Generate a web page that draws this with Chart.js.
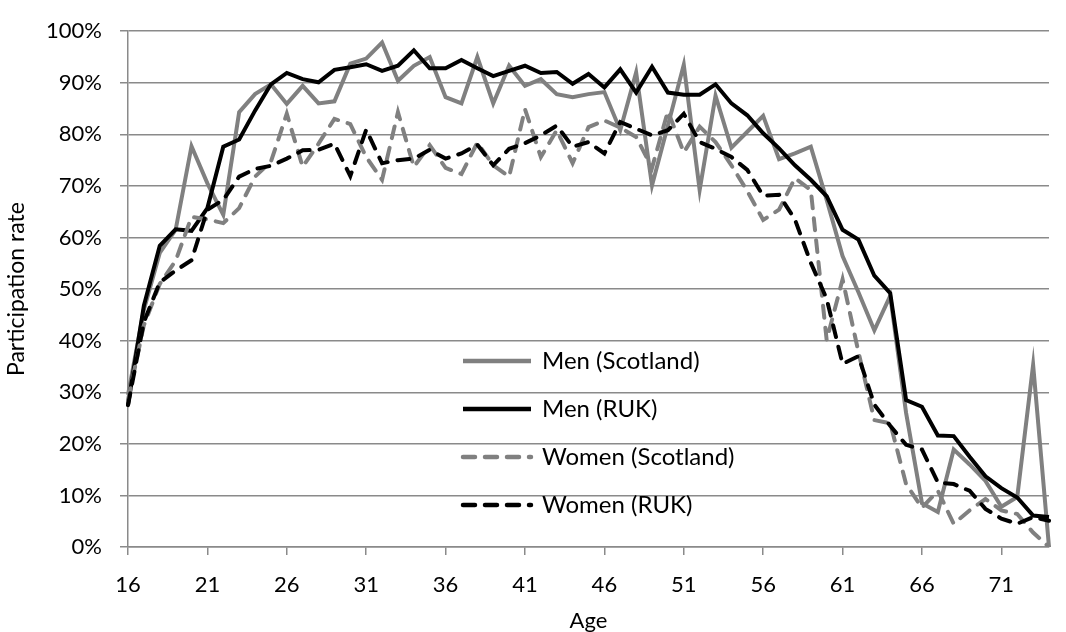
<!DOCTYPE html>
<html>
<head>
<meta charset="utf-8">
<title>Participation rate by age</title>
<script src="https://cdn.jsdelivr.net/npm/chart.js@4.4.1/dist/chart.umd.min.js"></script>
<style>
    body { margin: 0; background: #fff; }
    #wrap { width: 1066px; height: 632px; }
</style>
</head>
<body>
<div id="wrap"><canvas id="rateChart" width="1066" height="632"></canvas></div>
<script>
// ages 16..74
const ages = [];
for (let a = 16; a <= 74; a++) ages.push(a);

const menScotland = [
    29.5, 46, 57, 61.5, 77.7, 70.5, 64.4, 84.3, 87.8, 89.7,
    85.9, 89.4, 86, 86.4, 93.7, 94.7, 97.8, 90.4, 93.3, 95,
    87.2, 86, 95, 86, 93.3, 89.4, 90.7, 87.8, 87.2, 87.8,
    88.2, 80.8, 92, 70.1, 81.7, 93.5, 69.2, 87.5, 77.4, 80.5,
    83.6, 75.2, 76.3, 77.6, 67.3, 56.4, 49.4, 42, 48.7, 26,
    8.5, 6.8, 18.9, 16, 12.8, 7.8, 9.7, 35.3, 0
];
const menRUK = [
    27.5, 46.8, 58.4, 61.6, 61.3, 65.7, 77.6, 79, 84.6, 89.7,
    91.9, 90.7, 90.1, 92.5, 93, 93.6, 92.3, 93.3, 96.3, 92.8,
    92.8, 94.4, 92.8, 91.3, 92.3, 93.3, 91.9, 92.1, 89.8, 91.7,
    89.1, 92.6, 88.1, 93.1, 88.1, 87.7, 87.7, 89.7, 86, 83.7,
    80.2, 77.3, 74, 71.2, 68, 61.5, 59.6, 52.6, 49.2, 28.5,
    27.2, 21.6, 21.5, 17.5, 13.7, 11.4, 9.6, 6.1, 5.8
];
const womenScotland = [
    28.5, 43, 51, 55.5, 64, 63.5, 62.8, 65.7, 71.8, 74.7,
    84, 73.7, 78.2, 83, 82, 75.6, 71.2, 84.3, 73.7, 77.9,
    73.5, 72.3, 78.4, 74, 71.8, 84.9, 75.6, 80.8, 74.4, 81.4,
    82.7, 81.3, 79.5, 73.5, 84.5, 76.5, 81.5, 78.5, 74, 69,
    63.4, 65.4, 71.5, 69.2, 40.1, 51.9, 37.8, 24.6, 24, 12.2,
    7.6, 10.9, 4.5, 7.1, 9.3, 7.1, 6.4, 2.8, 0
];
const womenRUK = [
    27.5, 43.6, 51.3, 53.6, 55.6, 65.4, 67.3, 71.8, 73.3, 73.9,
    75.3, 76.9, 77, 78.2, 71.9, 80.9, 74.4, 75, 75.3, 77,
    75.3, 76.3, 78, 74, 77.2, 78.3, 79.8, 81.7, 77.6, 78.5,
    76.3, 82.4, 81.1, 79.8, 80.8, 84, 78.5, 77.2, 75.6, 73.1,
    68.1, 68.3, 63.5, 55.1, 48.1, 35.5, 37, 27.6, 23.5, 19.8,
    18.9, 12.5, 12.2, 10.9, 7.4, 5.5, 4.5, 5.8, 5.1
];
const seriesNames = ['Men (Scotland)', 'Men (RUK)', 'Women (Scotland)', 'Women (RUK)'];

const GREY = '#808080';
const FONT = 'Lato, "Open Sans", sans-serif';
const GRID = '#8a8a8a';

// legend sits inside the plot, drawn by hand like the Excel one
const insideLegend = {
    id: 'insideLegend',
    afterDatasetsDraw(chart) {
        const ctx = chart.ctx;
        const x0 = 463, x1 = 531, rowY = 361, rowGap = 48;
        chart.data.datasets.forEach((ds, i) => {
            const y = rowY + i * rowGap;
            ctx.save();
            ctx.strokeStyle = ds.borderColor;
            ctx.lineWidth = 4.5;
            ctx.lineCap = ds.borderDash ? 'round' : 'butt';
            ctx.setLineDash(ds.borderDash || []);
            ctx.beginPath();
            ctx.moveTo(x0, y);
            ctx.lineTo(x1, y);
            ctx.stroke();
            ctx.setLineDash([]);
            ctx.fillStyle = '#000';
            ctx.font = '24px ' + FONT;
            ctx.textBaseline = 'middle';
            ctx.textAlign = 'left';
            ctx.fillText(ds.label, 542, y);
            ctx.restore();
        });
    }
};

function makeSet(label, data, color, dashed, order) {
    return {
        label,
        data,
        borderColor: color,
        backgroundColor: color,
        borderWidth: 4,
        borderDash: dashed ? [12, 10] : undefined,
        borderCapStyle: dashed ? 'round' : 'butt',
        pointRadius: 0,
        tension: 0,
        fill: false,
        order
    };
}

const ctx = document.getElementById('rateChart').getContext('2d');
new Chart(ctx, {
    type: 'line',
    data: {
        labels: ages,
        datasets: [
            makeSet(seriesNames[0], menScotland, GREY, false, 4),
            makeSet(seriesNames[1], menRUK, '#000', false, 3),
            makeSet(seriesNames[2], womenScotland, GREY, true, 2),
            makeSet(seriesNames[3], womenRUK, '#000', true, 1)
        ]
    },
    options: {
        responsive: false,
        animation: false,
        layout: { padding: { top: 27, right: 3, left: 0, bottom: 0 } },
        plugins: {
            legend: { display: false },
            tooltip: { enabled: false }
        },
        scales: {
            x: {
                type: 'category',
                offset: false,
                border: { color: GRID, width: 1.5 },
                grid: {
                    drawOnChartArea: false,
                    drawTicks: true,
                    tickLength: 8,
                    lineWidth: 1.5,
                    color: c => (c.index % 5 === 0 ? GRID : 'rgba(0,0,0,0)')
                },
                ticks: {
                    autoSkip: false,
                    maxRotation: 0,
                    padding: 17,
                    color: '#000',
                    font: { family: FONT, size: 22 },
                    callback: function (val, i) { return i % 5 === 0 ? this.getLabelForValue(val) : ''; }
                },
                title: {
                    display: true,
                    text: 'Age',
                    color: '#000',
                    font: { family: FONT, size: 22 },
                    padding: { top: 0, bottom: -2 }
                },
                afterFit: s => { s.height = 85; }
            },
            y: {
                min: 0,
                max: 100,
                border: { color: GRID, width: 1.5 },
                grid: { color: GRID, lineWidth: 1.5, tickLength: 8 },
                ticks: {
                    stepSize: 10,
                    padding: 18,
                    color: '#000',
                    font: { family: FONT, size: 22 },
                    callback: v => v + '%'
                },
                title: {
                    display: true,
                    text: 'Participation rate',
                    color: '#000',
                    font: { family: FONT, size: 23 },
                    padding: { top: 3, bottom: 0 }
                },
                afterFit: s => { s.width = 128; }
            }
        }
    },
    plugins: [insideLegend]
});
</script>
</body>
</html>
